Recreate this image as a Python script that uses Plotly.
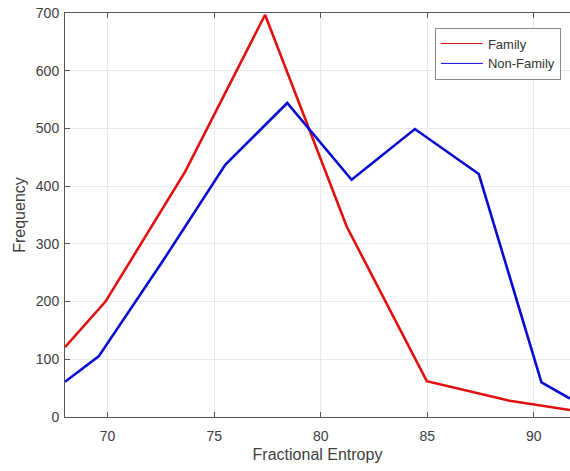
import plotly.graph_objects as go

family_x = [68.0, 69.9, 73.64, 77.39, 81.22, 84.98, 88.87, 91.7]
family_y = [121, 200, 425, 697, 330, 62, 28, 12]
nonfamily_x = [68.0, 69.58, 72.55, 75.52, 78.43, 81.45, 84.42, 87.42, 90.36, 91.7]
nonfamily_y = [61, 105, 268, 437, 544, 411, 499, 421, 60, 32]
x_ticks = [70, 75, 80, 85, 90]
y_ticks = [0, 100, 200, 300, 400, 500, 600, 700]

RED = "#e01010"
BLUE = "#0a0ad0"
FONT = "Liberation Sans, Arial, sans-serif"

fig = go.Figure()
fig.add_trace(go.Scatter(x=family_x, y=family_y, mode="lines", line=dict(color=RED, width=2.6),
                         showlegend=False))
fig.add_trace(go.Scatter(x=nonfamily_x, y=nonfamily_y, mode="lines", line=dict(color=BLUE, width=2.6),
                         showlegend=False))
# thin legend samples
fig.add_trace(go.Scatter(x=[None], y=[None], mode="lines", line=dict(color=RED, width=1), name="Family"))
fig.add_trace(go.Scatter(x=[None], y=[None], mode="lines", line=dict(color=BLUE, width=1), name="Non-Family"))

axis_font = dict(family=FONT, size=14, color="#404040")

fig.update_layout(
    width=570, height=471,
    margin=dict(l=65, r=0, t=13, b=54),
    paper_bgcolor="white", plot_bgcolor="white",
    font=axis_font,
    legend=dict(x=0.982, y=0.964, xanchor="right", yanchor="top",
                bgcolor="white", bordercolor="#8a8a8a", borderwidth=1,
                font=dict(family=FONT, size=13, color="#333333"),
                tracegroupgap=0, itemwidth=42),
    xaxis=dict(range=[68.0, 91.7], tickvals=x_ticks, ticktext=[str(v) for v in x_ticks],
               showgrid=True, gridcolor="#e8e8e8", gridwidth=1, zeroline=False,
               showline=True, linecolor="#555555", linewidth=1, mirror="ticks",
               ticks="inside", ticklen=5, tickcolor="#555555", ticklabelstandoff=6,
               title=dict(text="Fractional Entropy", font=dict(family=FONT, size=16, color="#404040"), standoff=6),
               tickfont=axis_font),
    yaxis=dict(range=[0, 700], tickvals=y_ticks, ticktext=[str(v) for v in y_ticks],
               showgrid=True, gridcolor="#e8e8e8", gridwidth=1, zeroline=False,
               showline=True, linecolor="#555555", linewidth=1,
               ticks="inside", ticklen=5, tickcolor="#555555", ticklabelstandoff=2,
               title=dict(text="Frequency", font=dict(family=FONT, size=16, color="#404040"), standoff=6),
               tickfont=axis_font),
)

fig.write_html("out.html", post_script="document.body.style.margin='0';",
               config={"displayModeBar": False})
